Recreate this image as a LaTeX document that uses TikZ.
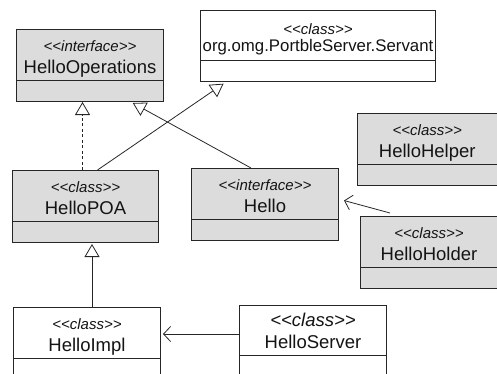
\documentclass[tikz,border=0pt]{standalone}
\usepackage{fontspec}
\setmainfont{Liberation Sans}
\usepackage{tikz}
\usetikzlibrary{shapes.multipart, arrows.meta, calc}
\definecolor{umlfill}{HTML}{DCDCDC}
\definecolor{umlline}{HTML}{262626}
\definecolor{umltext}{HTML}{141414}

% stereotype <<kind>>: the kerns keep the font mapping from making guillemets
\newcommand{\stereo}[1]{<\kern0pt<#1>\kern0pt>}
\newcommand{\stereoline}[1]{\rule{0pt}{21pt}{\fontsize{15}{18}\selectfont\itshape\stereo{#1}}}
\newcommand{\nameline}[1]{#1\rule[-7pt]{0pt}{7pt}}

\begin{document}
\begin{tikzpicture}[
    x=1pt, y=-1pt,
    umlclass/.style={
        rectangle split, rectangle split parts=2,
        draw=umlline, line width=1pt, fill=umlfill,
        inner xsep=0pt, inner ysep=0pt,
        minimum width=147pt, align=center,
        anchor=north west, text=umltext,
        font=\fontsize{18.5}{22}\selectfont
    },
    plain/.style={fill=white},
    gen/.style={
        -{Triangle[open, length=13pt, width=15pt]}, line width=0.8pt, draw=umlline
    },
    realize/.style={gen, dashed, dash pattern=on 3pt off 2.5pt},
    dep/.style={
        -{Straight Barb[length=7pt, width=15pt]}, line width=0.8pt, draw=umlline
    },
]
\useasboundingbox (0,0) rectangle (497,373);
\clip (0,0) rectangle (497,373);

\node[umlclass] (ops) at (16,29)
    {\stereoline{interface}\\\nameline{HelloOperations}\nodepart{two}\rule{0pt}{20pt}};
\node[umlclass, plain, minimum width=235pt, font=\fontsize{16.8}{17}\selectfont] (servant) at (200,10)
    {\rule{0pt}{23pt}{\fontsize{15}{18}\selectfont\itshape\stereo{class}}\\%
     org.omg.PortbleServer.Servant\rule[-9pt]{0pt}{9pt}\nodepart{two}\rule{0pt}{20pt}};
\node[umlclass, minimum width=146pt] (poa) at (12,170)
    {\stereoline{class}\\\nameline{HelloPOA}\nodepart{two}\rule{0pt}{20pt}};
\node[umlclass] (hello) at (191,168)
    {\stereoline{interface}\\\nameline{Hello}\nodepart{two}\rule{0pt}{20pt}};
\node[umlclass, minimum width=139.5pt] (helper) at (357,113)
    {\stereoline{class}\\\nameline{HelloHelper}\nodepart{two}\rule{0pt}{20pt}};
\node[umlclass, minimum width=137pt] (holder) at (360,216)
    {\stereoline{class}\\\nameline{HelloHolder}\nodepart{two}\rule{0pt}{20pt}};
\node[umlclass, plain] (impl) at (13,307)
    {\stereoline{class}\\\nameline{HelloImpl}\nodepart{two}\rule{0pt}{20pt}};
\node[umlclass, plain] (server) at (239,305)
    {\rule{0pt}{20pt}{\itshape\stereo{class}}\\\nameline{HelloServer}\nodepart{two}\rule{0pt}{20pt}};

% inheritance and realisation
\draw[realize] ([xshift=-3pt]poa.north) -- ([xshift=-3pt]poa.north |- ops.south);
\draw[gen, shorten >=3pt] ([xshift=12pt]poa.north) -- ([xshift=26pt]servant.south west);
\draw[gen, shorten >=2pt] ([xshift=-14pt]hello.north) -- ([xshift=-33pt]ops.south east);
\draw[gen, shorten >=1pt] ([xshift=5pt]impl.north) -- ([xshift=5pt]impl.north |- poa.south);

% usage
\draw[dep, shorten >=2pt] ([yshift=7pt]server.west) -- ([yshift=7pt]server.west -| impl.east);
\draw[dep] ([xshift=30pt, yshift=3pt]holder.north west) -- ([xshift=5pt, yshift=4pt]hello.east);
\end{tikzpicture}
\end{document}
